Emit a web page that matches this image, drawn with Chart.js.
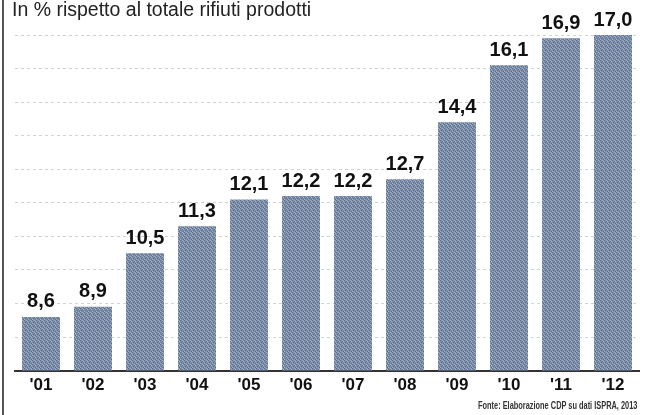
<!DOCTYPE html>
<html>
<head>
<meta charset="utf-8">
<script src="https://cdn.jsdelivr.net/npm/chart.js@4"></script>
<style>
  html, body { margin: 0; padding: 0; background: #fff; }
  #wrap { position: relative; width: 659px; height: 415px; overflow: hidden; }
  #edge { position: absolute; left: 2px; top: 0; width: 2px; height: 415px; background: #555; }
  #title { position: absolute; left: 12px; top: -2px; font: 19.5px "Liberation Sans Narrow", "Liberation Sans", sans-serif; color: #222; white-space: nowrap; }
  #source { position: absolute; right: 22px; top: 400px; font: bold 10px "Liberation Sans Narrow", "Liberation Sans", sans-serif; color: #333; white-space: nowrap; transform: scaleX(0.74); transform-origin: right center; }
  canvas { position: absolute; left: 0; top: 0; }
</style>
</head>
<body>
<div id="wrap">
  <canvas id="chart" width="659" height="415"></canvas>
  <div id="edge"></div>
  <div id="title">In % rispetto al totale rifiuti prodotti</div>
  <div id="source">Fonte: Elaborazione CDP su dati ISPRA, 2013</div>
</div>
<script>
// Data
const years = ["'01", "'02", "'03", "'04", "'05", "'06", "'07", "'08", "'09", "'10", "'11", "'12"];
const shares = [8.6, 8.9, 10.5, 11.3, 12.1, 12.2, 12.2, 12.7, 14.4, 16.1, 16.9, 17.0];
const yMin = 7;
const yMax = 17;

// Small speckled tile so the bars look like the printed screen
function speckle() {
    const c = document.createElement('canvas');
    c.width = 4;
    c.height = 4;
    const g = c.getContext('2d');
    g.fillStyle = '#7d8fa9';
    g.fillRect(0, 0, 4, 4);
    g.fillStyle = '#5d7091';
    [[0, 0], [2, 1], [1, 2], [3, 3]].forEach(p => g.fillRect(p[0], p[1], 1, 1));
    g.fillStyle = '#a3b1c5';
    [[2, 0], [0, 3], [3, 1]].forEach(p => g.fillRect(p[0], p[1], 1, 1));
    return g.createPattern(c, 'repeat');
}

// Draws the value on top of every bar, with a comma as decimal mark
const valueLabels = {
    id: 'valueLabels',
    afterDatasetsDraw(chart) {
        const ctx = chart.ctx;
        const meta = chart.getDatasetMeta(0);
        ctx.save();
        ctx.font = 'bold 20px "Liberation Sans", Arial, sans-serif';
        ctx.fillStyle = '#111';
        ctx.textAlign = 'center';
        ctx.textBaseline = 'bottom';
        meta.data.forEach((bar, i) => {
            const txt = shares[i].toFixed(1).replace('.', ',');
            ctx.fillText(txt, bar.x, bar.y - 5);
        });
        ctx.restore();
    }
};

const ctx = document.getElementById('chart').getContext('2d');
new Chart(ctx, {
    type: 'bar',
    data: {
        labels: years,
        datasets: [{
            data: shares,
            backgroundColor: speckle(),
            borderWidth: 0,
            categoryPercentage: 0.73,
            barPercentage: 1
        }]
    },
    options: {
        responsive: false,
        animation: false,
        layout: { padding: { left: 15, right: 20, top: 35, bottom: 14 } },
        plugins: {
            legend: { display: false },
            tooltip: { enabled: false }
        },
        scales: {
            x: {
                grid: { display: false, drawTicks: false },
                border: { display: true, color: '#333', width: 2 },
                ticks: {
                    color: '#111',
                    padding: 5,
                    font: { family: '"Liberation Sans", Arial, sans-serif', size: 17, weight: 'bold' }
                }
            },
            y: {
                min: yMin,
                max: yMax,
                ticks: { display: false, stepSize: 1 },
                grid: { color: '#d2d2d2', lineWidth: 1, drawTicks: false },
                border: { display: false, dash: [3, 3] }
            }
        }
    },
    plugins: [valueLabels]
});
</script>
</body>
</html>
